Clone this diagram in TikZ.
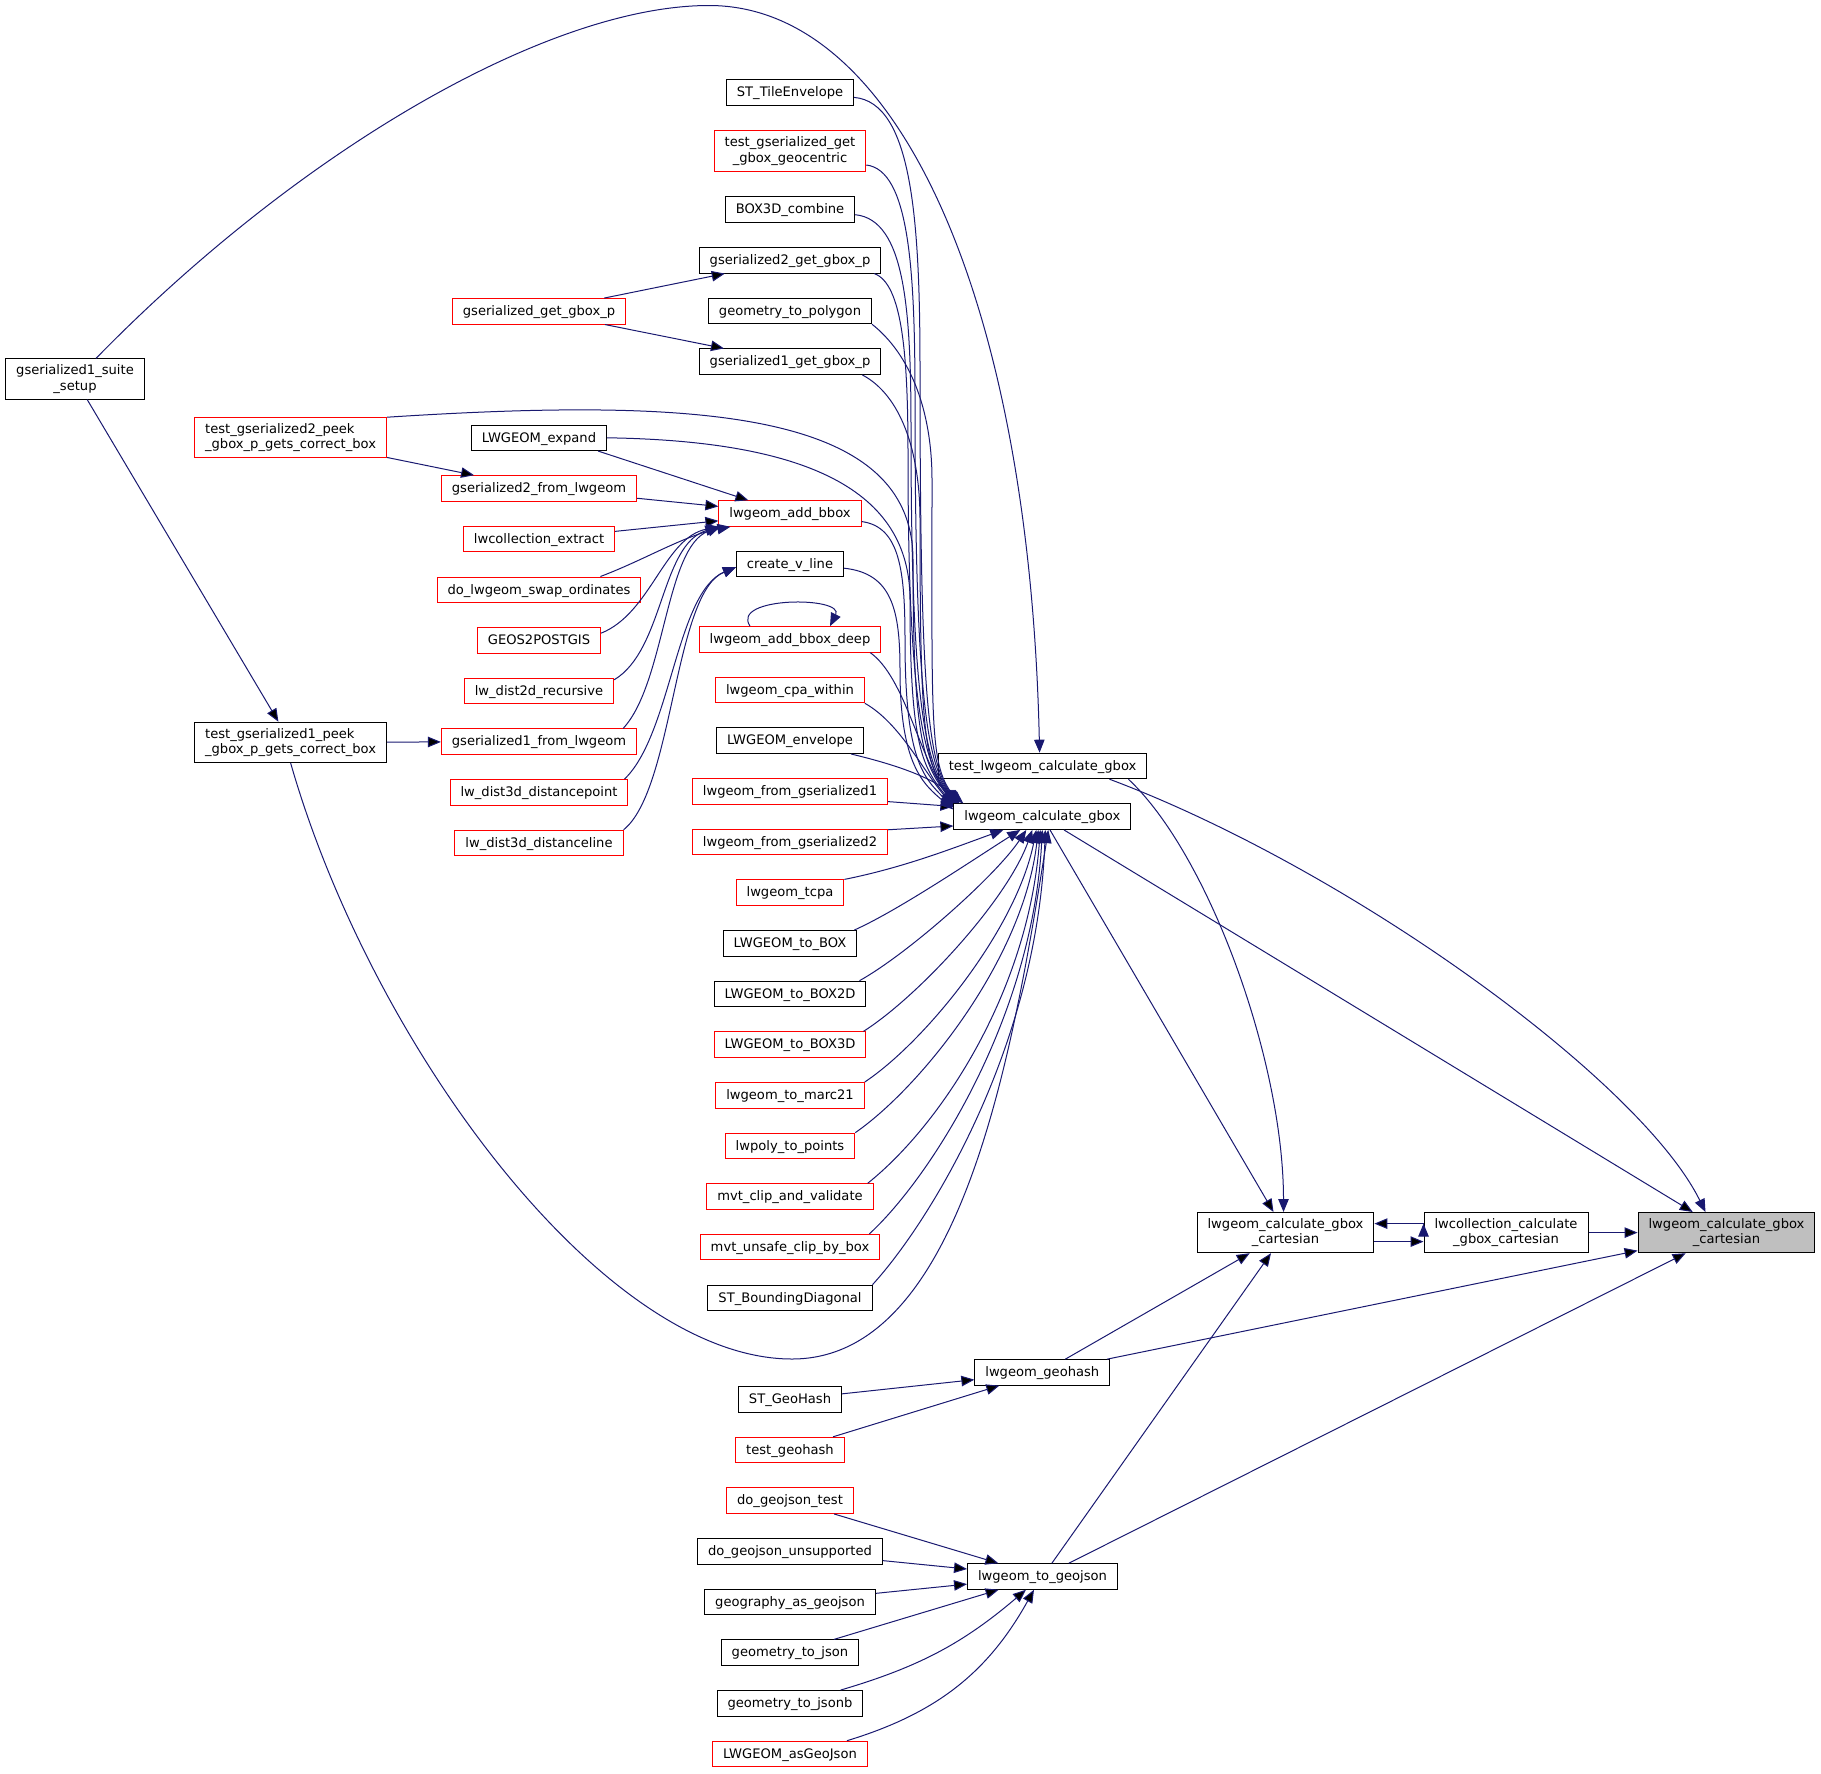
\documentclass[tikz,border=0pt]{standalone}
\usepackage{fontspec}
\setmainfont{DejaVu Sans}
\usetikzlibrary{positioning,arrows.meta}
\definecolor{edgeblue}{HTML}{191970}
\definecolor{rootgrey}{HTML}{BFBFBF}
\newcommand{\fnfont}{\fontsize{13.1}{15.3}\selectfont}
\tikzset{
  fnbase/.style={draw=black,line width=1pt,inner xsep=10.5pt,inner ysep=0pt,font=\fnfont},
  fn/.style={fnbase,minimum height=25.5pt,text height=11pt,text depth=2.5pt},
  fntwo/.style={fnbase,minimum height=40.2pt,align=center},
  trunc/.style={draw=red},
  call/.style={draw=edgeblue,line width=1pt,-{Triangle[length=13pt,width=10.5pt]}}
}
\begin{document}
\begin{tikzpicture}[x=1pt,y=1pt,node distance=50.65pt,on grid]
\useasboundingbox (0,0) rectangle (1821,-1773);

% leftmost callers
\node[fntwo] (suite) at (75,-379) {gserialized1\_suite\\\_setup};
\node[fntwo,trunc,align=left] (tp2) at (290.6,-437.8) {test\_gserialized2\_peek\\\_gbox\_p\_gets\_correct\_box};
\node[fntwo,align=left] (tp1) at (290.6,-742.3) {test\_gserialized1\_peek\\\_gbox\_p\_gets\_correct\_box};

% second column
\node[fn,trunc] (ggp) at (539,-311.3) {gserialized\_get\_gbox\_p};
\node[fn] (expand) at (539,-437.8) {LWGEOM\_expand};
\node[fn,trunc] (gf2) [below=of expand] {gserialized2\_from\_lwgeom};
\node[fn,trunc] (lce) [below=of gf2] {lwcollection\_extract};
\node[fn,trunc] (swap) [below=of lce] {do\_lwgeom\_swap\_ordinates};
\node[fn,trunc] (geos) [below=of swap] {GEOS2POSTGIS};
\node[fn,trunc] (d2d) [below=of geos] {lw\_dist2d\_recursive};
\node[fn,trunc] (gf1) [below=of d2d] {gserialized1\_from\_lwgeom};
\node[fn,trunc] (d3p) [below=of gf1] {lw\_dist3d\_distancepoint};
\node[fn,trunc] (d3l) [below=of d3p] {lw\_dist3d\_distanceline};

% third column
\node[fn] (tile) at (790,-92.4) {ST\_TileEnvelope};
\node[fntwo,trunc] (geoc) at (790,-151) {test\_gserialized\_get\\\_gbox\_geocentric};
\node[fn] (b3d) at (790,-209.7) {BOX3D\_combine};
\node[fn] (gs2) [below=of b3d] {gserialized2\_get\_gbox\_p};
\node[fn] (gpoly) [below=of gs2] {geometry\_to\_polygon};
\node[fn] (gs1) [below=of gpoly] {gserialized1\_get\_gbox\_p};
\node[fn,trunc] (abox) [below=151.9pt of gs1] {lwgeom\_add\_bbox};
\node[fn] (cvl) [below=of abox] {create\_v\_line};
\node[fn,trunc] (bbd) at (790,-639.4) {lwgeom\_add\_bbox\_deep};
\node[fn,trunc] (cpa) [below=of bbd] {lwgeom\_cpa\_within};
\node[fn] (env) [below=of cpa] {LWGEOM\_envelope};
\node[fn,trunc] (lf1) [below=of env] {lwgeom\_from\_gserialized1};
\node[fn,trunc] (lf2) [below=of lf1] {lwgeom\_from\_gserialized2};
\node[fn,trunc] (tcpa) [below=of lf2] {lwgeom\_tcpa};
\node[fn] (tobox) [below=of tcpa] {LWGEOM\_to\_BOX};
\node[fn] (tob2) [below=of tobox] {LWGEOM\_to\_BOX2D};
\node[fn,trunc] (tob3) [below=of tob2] {LWGEOM\_to\_BOX3D};
\node[fn,trunc] (marc) [below=of tob3] {lwgeom\_to\_marc21};
\node[fn,trunc] (lwpoly) [below=of marc] {lwpoly\_to\_points};
\node[fn,trunc] (mvtc) [below=of lwpoly] {mvt\_clip\_and\_validate};
\node[fn,trunc] (mvtu) [below=of mvtc] {mvt\_unsafe\_clip\_by\_box};
\node[fn] (bdiag) [below=of mvtu] {ST\_BoundingDiagonal};
\node[fn] (sgh) at (790,-1399.4) {ST\_GeoHash};
\node[fn,trunc] (tgh) [below=of sgh] {test\_geohash};
\node[fn,trunc] (dgt) [below=of tgh] {do\_geojson\_test};
\node[fn] (dgu) [below=of dgt] {do\_geojson\_unsupported};
\node[fn] (gaj) [below=of dgu] {geography\_as\_geojson};
\node[fn] (gtj) [below=of gaj] {geometry\_to\_json};
\node[fn] (gtjb) [below=of gtj] {geometry\_to\_jsonb};
\node[fn,trunc] (lasg) [below=of gtjb] {LWGEOM\_asGeoJson};

% fourth column and the root
\node[fn] (tlg) at (1042.6,-765.9) {test\_lwgeom\_calculate\_gbox};
\node[fn] (lg) at (1042.3,-816.7) {lwgeom\_calculate\_gbox};
\node[fn] (gh) at (1042.3,-1372.4) {lwgeom\_geohash};
\node[fn] (tj) at (1042.5,-1576.5) {lwgeom\_to\_geojson};
\node[fntwo] (gc) at (1285.5,-1232.6) {lwgeom\_calculate\_gbox\\\_cartesian};
\node[fntwo] (lc) at (1506,-1232.6) {lwcollection\_calculate\\\_gbox\_cartesian};
\node[fntwo,fill=rootgrey] (root) at (1726.5,-1232.6) {lwgeom\_calculate\_gbox\\\_cartesian};

% straight calls
\path[call]
  (suite) edge (tp1)
  (tp1) edge (gf1)
  (tp2) edge (gf2)
  (ggp) edge (gs2)
  (ggp) edge (gs1)
  ([xshift=-9pt]expand.south east) edge ([xshift=30pt]abox.north west)
  (gf2) edge (abox)
  (lce) edge (abox)
  ([yshift=3pt]lf1.south east) edge ([yshift=-3pt]lg.north west)
  ([yshift=-1pt]lf2.north east) edge ([yshift=4pt]lg.south west)
  (lg) edge (gc)
  (lg) edge (root)
  ([yshift=-9pt]gc.east) edge ([yshift=-9pt]lc.west)
  ([yshift=9pt]lc.west) edge ([yshift=9pt]gc.east)
  (lc) edge (root)
  (gh) edge (gc)
  (gh) edge (root)
  (tj) edge (gc)
  (tj) edge (root)
  (sgh) edge (gh)
  (tgh) edge (gh)
  (dgt) edge (tj)
  (dgu) edge (tj)
  (gaj) edge (tj)
  (gtj) edge (tj)
  (gtjb) edge[bend right=12] (tj)
  (lasg) edge[bend right=22] (tj);

% into lwgeom_add_bbox and create_v_line from below
\draw[call] ([xshift=-41pt]swap.north east) .. controls +(45,17) and +(-45,-8) .. ([xshift=12pt]abox.south west);
\draw[call] ([yshift=-6pt]geos.north east) .. controls +(50,20) and +(-55,-10) .. ([xshift=1pt]abox.south west);
\draw[call] ([yshift=-2pt]d2d.north east) .. controls +(50,30) and +(-58,-18) .. (abox.south west);
\draw[call] ([xshift=-14pt]gf1.north east) .. controls +(42,45) and +(-55,-20) .. ([xshift=2pt]abox.south west);
\draw[call] ([xshift=-4pt]d3p.north east) .. controls +(47,45) and +(-60,-25) .. ([yshift=-3pt]cvl.west);
\draw[call] (d3l.north east) .. controls +(50,40) and +(-62,-25) .. ([yshift=-3pt]cvl.west);
\draw[call] ([xshift=-40pt]bbd.north) .. controls +(-20,30) and +(15,30) .. ([xshift=40pt]bbd.north);

% the bundle into lwgeom_calculate_gbox from above
\draw[call] ([yshift=-5pt]tile.east) .. controls +(58,-5) and +(0,150) .. (920,-370)
  .. controls +(0,-330) and +(-30,40) .. ([xshift=5pt]lg.north west);
\draw[call] ([yshift=-14pt]geoc.east) .. controls +(43,-5) and +(0,130) .. (915,-400)
  .. controls +(0,-300) and +(-30,40) .. ([xshift=4pt]lg.north west);
\draw[call] ([yshift=-5pt]b3d.east) .. controls +(50,-5) and +(0,120) .. (911,-430)
  .. controls +(0,-280) and +(-30,40) .. ([xshift=3pt]lg.north west);
\draw[call] ([xshift=-7pt]gs2.south east) .. controls +(28,-10) and +(0,100) .. (908,-455)
  .. controls +(0,-260) and +(-30,40) .. ([xshift=2pt]lg.north west);
\draw[call] (gpoly.south east) .. controls +(38,-30) and +(0,70) .. (932,-480)
  .. controls +(0,-240) and +(-30,40) .. ([xshift=6pt]lg.north west);
\draw[call] ([xshift=-19pt]gs1.south east) .. controls +(38,-20) and +(0,70) .. (920,-520)
  .. controls +(0,-210) and +(-30,40) .. ([xshift=1pt]lg.north west);
\draw[call] (tp2.north east) .. controls +(310,20) and +(0,150) .. (913,-560)
  .. controls +(0,-180) and +(-30,40) .. (lg.north west);
\draw[call] (expand.east) .. controls +(200,-3) and +(0,110) .. (910,-600)
  .. controls +(0,-150) and +(-30,38) .. ([yshift=-2pt]lg.north west);
\draw[call] ([yshift=-8pt]abox.east) .. controls +(38,-5) and +(0,70) .. (905,-640)
  .. controls +(0,-120) and +(-30,30) .. ([yshift=-4pt]lg.north west);
\draw[call] ([yshift=-4pt]cvl.east) .. controls +(48,-5) and +(0,60) .. (900,-670)
  .. controls +(0,-95) and +(-30,25) .. ([yshift=-6pt]lg.north west);
\draw[call] ([xshift=-11pt]bbd.south east) .. controls +(35,-25) and +(-35,45) .. ([xshift=1pt]lg.north west);
\draw[call] (cpa.south east) .. controls +(35,-20) and +(-32,38) .. ([yshift=-3pt]lg.north west);
\draw[call] ([xshift=-13pt]env.south east) .. controls +(50,-12) and +(-30,25) .. ([xshift=10pt]lg.north west);

% into lwgeom_calculate_gbox from below
\draw[call] (tcpa.north east) .. controls +(60,12) and +(-50,-18) .. ([xshift=-39pt]lg.south);
\draw[call] ([xshift=-3pt]tobox.north east) .. controls +(45,20) and +(-40,-25) .. ([xshift=-22pt]lg.south);
\draw[call] ([xshift=-7pt]tob2.north east) .. controls +(50,28) and +(-30,-45) .. ([xshift=-16pt]lg.south);
\draw[call] ([xshift=-3pt]tob3.north east) .. controls +(55,35) and +(-25,-70) .. ([xshift=-10pt]lg.south);
\draw[call] (marc.north east) .. controls +(60,40) and +(-20,-100) .. ([xshift=-6pt]lg.south);
\draw[call] (lwpoly.north east) .. controls +(65,45) and +(-15,-130) .. ([xshift=-4pt]lg.south);
\draw[call] ([xshift=-6pt]mvtc.north east) .. controls +(75,60) and +(-12,-160) .. ([xshift=-2pt]lg.south);
\draw[call] ([xshift=-11pt]mvtu.north east) .. controls +(60,55) and +(-10,-190) .. (lg.south);
\draw[call] (bdiag.north east) .. controls +(55,60) and +(-8,-220) .. ([xshift=3pt]lg.south);
\draw[call] (tp1.south) .. controls +(80,-280) and +(-190,0) .. (792,-1359)
  .. controls +(170,0) and +(-35,-220) .. ([xshift=6pt]lg.south);

% test_lwgeom_calculate_gbox
\draw[call] ([xshift=21pt]suite.north) .. controls +(204,209) and +(-160,0) .. (709,-5.5)
  .. controls +(190,0) and +(-10,450) .. ([xshift=-3pt]tlg.north);
\draw[call] ([xshift=-19pt]tlg.south east) .. controls +(81,-76) and +(0,150) .. ([xshift=-2pt]gc.north);
\draw[call] ([xshift=-38pt]tlg.south east) .. controls +(240,-90) and +(-65,132) .. ([xshift=-21pt]root.north);
\end{tikzpicture}
\end{document}
